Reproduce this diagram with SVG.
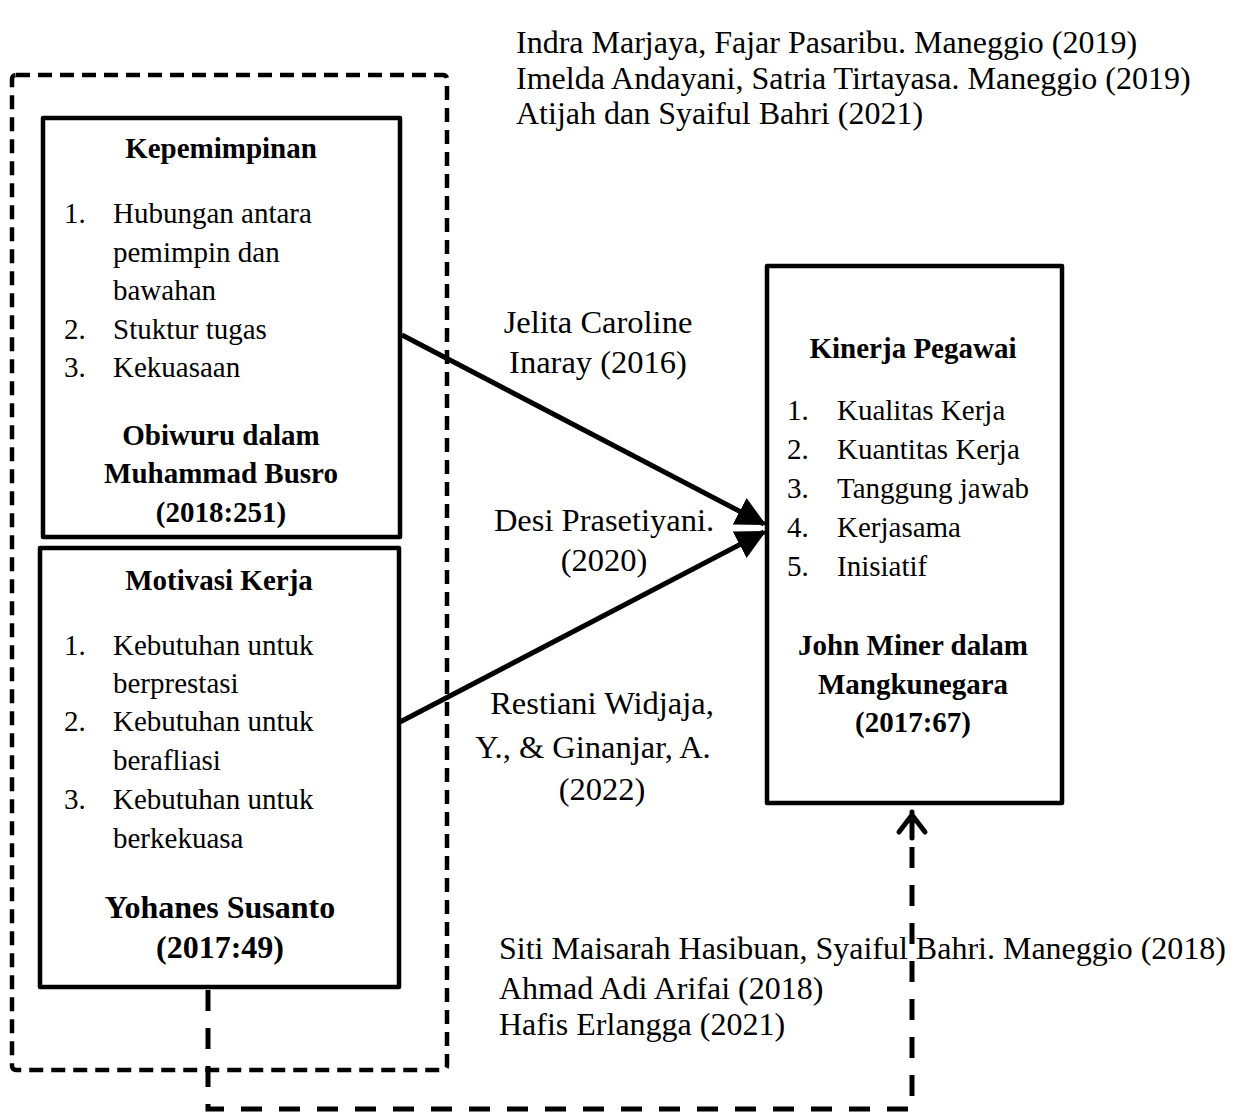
<svg xmlns="http://www.w3.org/2000/svg" width="1239" height="1113" viewBox="0 0 1239 1113">
<style>
text{font-family:"Liberation Serif","Times New Roman",serif;fill:#000}
.t{font-size:29px}
.b{font-size:29px;font-weight:bold;text-anchor:middle}
.c{font-size:32.5px;text-anchor:middle}
.r{font-size:32px}
.box{fill:none;stroke:#000;stroke-width:4.5;stroke-linejoin:round}
</style>
<defs>
<marker id="ah" markerWidth="6" markerHeight="6" refX="5.5" refY="3" orient="auto" markerUnits="strokeWidth">
<path d="M0,0 L6,3 L0,6 Z" fill="#000"/>
</marker>
</defs>
<rect width="1239" height="1113" fill="#fff"/>

<g id="group-outer">
<rect x="12" y="75" width="435" height="995" rx="4" fill="none" stroke="#000" stroke-width="4.5" stroke-dasharray="14 8"/>
</g>

<g id="refs-top">
<text class="r" x="516" y="53">Indra Marjaya, Fajar Pasaribu. Maneggio (2019)</text>
<text class="r" x="516" y="89">Imelda Andayani, Satria Tirtayasa. Maneggio (2019)</text>
<text class="r" x="516" y="124">Atijah dan Syaiful Bahri (2021)</text>
</g>

<g id="node-kepemimpinan">
<rect class="box" x="43" y="118" width="357" height="419"/>
<text class="b" x="221" y="158">Kepemimpinan</text>
<text class="t" x="64" y="223">1.</text><text class="t" x="113" y="223">Hubungan antara</text>
<text class="t" x="113" y="262">pemimpin dan</text>
<text class="t" x="113" y="300">bawahan</text>
<text class="t" x="64" y="339">2.</text><text class="t" x="113" y="339">Stuktur tugas</text>
<text class="t" x="64" y="377">3.</text><text class="t" x="113" y="377">Kekuasaan</text>
<text class="b" x="221" y="445">Obiwuru dalam</text>
<text class="b" x="221" y="483">Muhammad Busro</text>
<text class="b" x="221" y="522">(2018:251)</text>
</g>

<g id="node-motivasi">
<rect class="box" x="40" y="548" width="359" height="439"/>
<text class="b" x="219" y="590">Motivasi Kerja</text>
<text class="t" x="64" y="655">1.</text><text class="t" x="113" y="655">Kebutuhan untuk</text>
<text class="t" x="113" y="693">berprestasi</text>
<text class="t" x="64" y="731">2.</text><text class="t" x="113" y="731">Kebutuhan untuk</text>
<text class="t" x="113" y="770">berafliasi</text>
<text class="t" x="64" y="809">3.</text><text class="t" x="113" y="809">Kebutuhan untuk</text>
<text class="t" x="113" y="848">berkekuasa</text>
<text class="b" x="220" y="918" style="font-size:32px">Yohanes Susanto</text>
<text class="b" x="220" y="958" style="font-size:32px">(2017:49)</text>
</g>

<g id="node-kinerja">
<rect class="box" x="767" y="266" width="295" height="537"/>
<text class="b" x="913" y="358">Kinerja Pegawai</text>
<text class="t" x="787" y="420">1.</text><text class="t" x="837" y="420">Kualitas Kerja</text>
<text class="t" x="787" y="459">2.</text><text class="t" x="837" y="459">Kuantitas Kerja</text>
<text class="t" x="787" y="498">3.</text><text class="t" x="837" y="498">Tanggung jawab</text>
<text class="t" x="787" y="537">4.</text><text class="t" x="837" y="537">Kerjasama</text>
<text class="t" x="787" y="576">5.</text><text class="t" x="837" y="576">Inisiatif</text>
<text class="b" x="913" y="655">John Miner dalam</text>
<text class="b" x="913" y="694">Mangkunegara</text>
<text class="b" x="913" y="732">(2017:67)</text>
</g>

<g id="connectors">
<line x1="402" y1="335" x2="764" y2="524" stroke="#000" stroke-width="5" marker-end="url(#ah)"/>
<line x1="400" y1="722" x2="764" y2="532" stroke="#000" stroke-width="5" marker-end="url(#ah)"/>
<path d="M208,990 V1109 H912 V832" fill="none" stroke="#000" stroke-width="5" stroke-dasharray="21 17"/>
<path d="M912,812 V838 M899,832 L912,815 L925,832" fill="none" stroke="#000" stroke-width="5" stroke-linecap="round" stroke-linejoin="round"/>
</g>

<g id="labels">
<text class="c" x="598" y="333">Jelita Caroline</text>
<text class="c" x="598" y="373">Inaray (2016)</text>
<text class="c" x="604" y="531">Desi Prasetiyani.</text>
<text class="c" x="604" y="571">(2020)</text>
<text class="c" x="602" y="714">Restiani Widjaja,</text>
<text class="c" x="593" y="758">Y., &amp; Ginanjar, A.</text>
<text class="c" x="602" y="800">(2022)</text>
</g>

<g id="refs-bottom">
<text class="r" x="499" y="959">Siti Maisarah Hasibuan, Syaiful Bahri. Maneggio (2018)</text>
<text class="r" x="499" y="999">Ahmad Adi Arifai (2018)</text>
<text class="r" x="499" y="1035">Hafis Erlangga (2021)</text>
</g>
</svg>
